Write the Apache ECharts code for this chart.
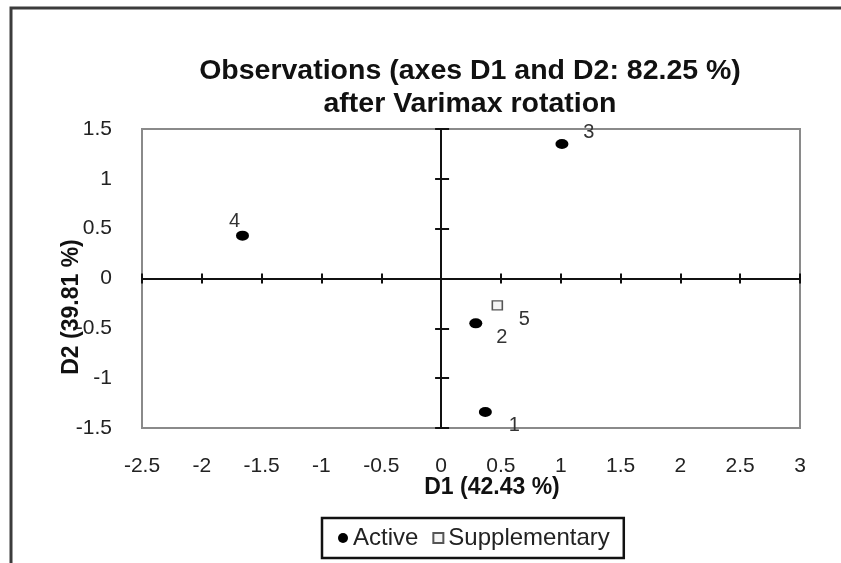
<!DOCTYPE html>
<html>
<head>
<meta charset="utf-8">
<script src="https://cdn.jsdelivr.net/npm/echarts@6/dist/echarts.min.js"></script>
<style>html,body{margin:0;padding:0;background:#fff}#c{width:841px;height:563px}</style>
</head>
<body>
<div id="c"></div>
<script>
// ---- data ----
const activeNames = ['1', '2', '3', '4'];
const activeD1 = [0.37, 0.29, 1.01, -1.66];
const activeD2 = [-1.34, -0.45, 1.35, 0.43];
const suppNames = ['5'];
const suppD1 = [0.47];
const suppD2 = [-0.27];
const xRange = [-2.5, 3, 0.5];
const yRange = [-1.5, 1.5, 0.5];
const titleLines = ['Observations (axes D1 and D2: 82.25 %)', 'after Varimax rotation'];
const xName = 'D1 (42.43 %)';
const yName = 'D2 (39.81 %)';
const seriesNames = ['Active', 'Supplementary'];

// ---- style ----
const FONT = '"Liberation Sans", Arial, sans-serif';
const labelOffsets = { '1': [29, 13], '2': [26, 14], '3': [27, -11], '4': [-8, -14], '5': [27, 14] };
const gridBox = { left: 142, right: 41, top: 129, bottom: 135 };

function pts(names, xs, ys) {
  return names.map((n, i) => ({
    name: n, value: [xs[i], ys[i]],
    label: { offset: labelOffsets[n] || [0, 0] }
  }));
}

const chart = echarts.init(document.getElementById('c'), null, { renderer: 'canvas' });
const zeroAxisLine = { show: true, onZero: true, lineStyle: { color: '#111', width: 2 } };
const baseVal = (r) => ({ type: 'value', min: r[0], max: r[1], interval: r[2], splitLine: { show: false } });

chart.setOption({
  animation: false,
  backgroundColor: '#fff',
  title: {
    text: titleLines.join('\n'),
    left: 465, top: 50, textAlign: 'center',
    textStyle: { fontFamily: FONT, fontWeight: 'bold', fontSize: 28.5, lineHeight: 33, color: '#111' }
  },
  grid: [
    Object.assign({ show: true, borderColor: '#8a8a8a', borderWidth: 2, backgroundColor: 'transparent' }, gridBox),
    Object.assign({ show: false }, gridBox)
  ],
  xAxis: [
    Object.assign(baseVal(xRange), { gridIndex: 0, position: 'bottom',
      axisLine: { show: false }, axisTick: { show: false },
      axisLabel: { margin: 28, fontFamily: FONT, fontSize: 21, color: '#222' } }),
    Object.assign(baseVal(xRange), { gridIndex: 1, position: 'bottom',
      axisLine: zeroAxisLine, axisTick: { show: true, length: 5, lineStyle: { color: '#111', width: 2 } },
      axisLabel: { show: false } }),
    Object.assign(baseVal(xRange), { gridIndex: 1, position: 'top',
      axisLine: zeroAxisLine, axisTick: { show: true, length: 5, lineStyle: { color: '#111', width: 2 } },
      axisLabel: { show: false } })
  ],
  yAxis: [
    Object.assign(baseVal(yRange), { gridIndex: 0, position: 'left',
      axisLine: { show: false }, axisTick: { show: false },
      axisLabel: { margin: 30, fontFamily: FONT, fontSize: 21, color: '#222' } }),
    Object.assign(baseVal(yRange), { gridIndex: 1, position: 'left',
      axisLine: zeroAxisLine, axisTick: { show: true, length: 6, lineStyle: { color: '#111', width: 2 } },
      axisLabel: { show: false } }),
    Object.assign(baseVal(yRange), { gridIndex: 1, position: 'right',
      axisLine: zeroAxisLine, axisTick: { show: true, length: 8, lineStyle: { color: '#111', width: 2 } },
      axisLabel: { show: false } })
  ],
  legend: {
    left: 322, top: 518,
    padding: [8, 14, 8, 16],
    borderColor: '#111', borderWidth: 2.5,
    itemGap: 14, itemWidth: 10, itemHeight: 10,
    textStyle: { fontFamily: FONT, fontSize: 24, color: '#222' },
    data: [
      { name: seriesNames[0], icon: 'circle' },
      { name: seriesNames[1], icon: 'rect' }
    ]
  },
  graphic: [
    { type: 'rect', silent: true, z: 100,
      shape: { x: 11, y: 8, width: 1000, height: 800 },
      style: { fill: 'none', stroke: '#3c3c3c', lineWidth: 3 } },
    { type: 'text', x: 492, y: 488, silent: true,
      style: { text: xName, fontFamily: FONT, fontWeight: 'bold', fontSize: 23, fill: '#111', align: 'center', verticalAlign: 'middle' } },
    { type: 'text', x: 72, y: 307, rotation: Math.PI / 2, silent: true,
      style: { text: yName, fontFamily: FONT, fontWeight: 'bold', fontSize: 23, fill: '#111', align: 'center', verticalAlign: 'middle' } }
  ],
  series: [
    {
      name: seriesNames[0], type: 'scatter', xAxisIndex: 0, yAxisIndex: 0,
      symbol: 'circle', symbolSize: [13, 10],
      itemStyle: { color: '#000', opacity: 1 },
      label: { show: true, position: 'inside', formatter: '{b}', fontFamily: FONT, fontSize: 20, color: '#333' },
      data: pts(activeNames, activeD1, activeD2), z: 5
    },
    {
      name: seriesNames[1], type: 'scatter', xAxisIndex: 0, yAxisIndex: 0,
      symbol: 'rect', symbolSize: [10, 9],
      itemStyle: { color: '#f4f4f4', borderColor: '#555', borderWidth: 1.5, opacity: 1 },
      label: { show: true, position: 'inside', formatter: '{b}', fontFamily: FONT, fontSize: 20, color: '#333' },
      data: pts(suppNames, suppD1, suppD2), z: 5
    }
  ]
});
</script>
</body>
</html>
